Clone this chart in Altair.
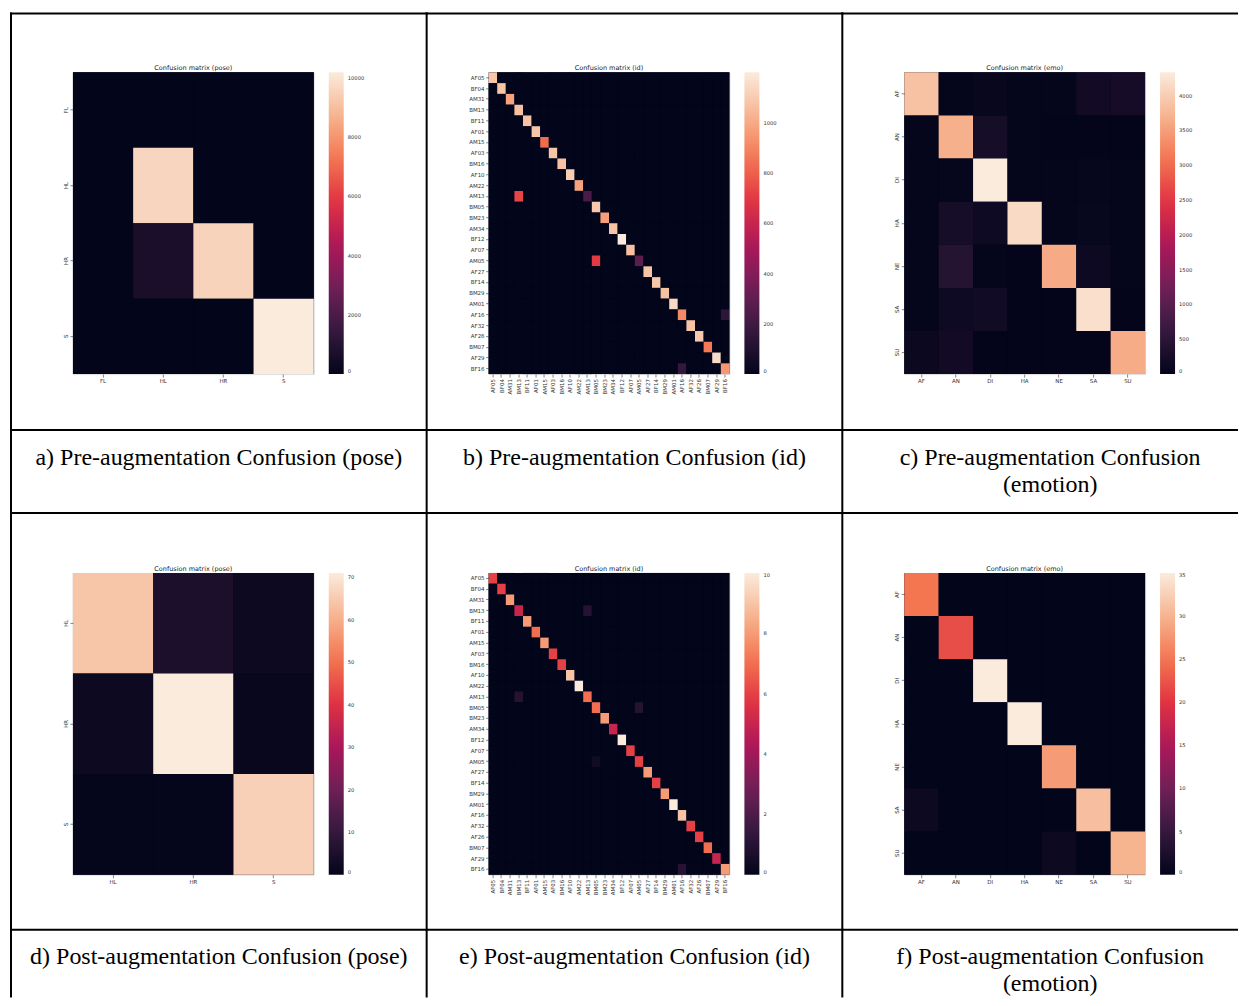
import altair as alt
import pandas as pd

# ---------------- data ----------------
pose_pre_labels = ["FL", "HL", "HR", "S"]
pose_pre = [
    [0, 0, 0, 0],
    [0, 9600, 0, 0],
    [0, 670, 9550, 0],
    [0, 0, 0, 10180],
]
pose_pre_max = 10180
pose_pre_ticks = [0, 2000, 4000, 6000, 8000, 10000]

pose_post_labels = ["HL", "HR", "S"]
pose_post = [
    [64, 5, 2],
    [2, 71, 1],
    [0.5, 0.5, 66],
]
pose_post_max = 71
pose_post_ticks = [0, 10, 20, 30, 40, 50, 60, 70]

id_labels = ["AF05", "BF04", "AM31", "BM13", "BF11", "AF01", "AM15", "AF03",
             "BM16", "AF10", "AM22", "AM13", "BM05", "BM23", "AM34", "BF12",
             "AF07", "AM05", "AF27", "BF14", "BM29", "AM01", "AF16", "AF32",
             "AF26", "BM07", "AF29", "BF16"]
id_pre_diag = [1085, 1080, 980, 1066, 1072, 1085, 832, 1085, 1072, 1106, 980,
               236, 1090, 967, 1080, 1200, 1066, 280, 1080, 1085, 1072, 1147,
               912, 1080, 1090, 868, 1152, 948]
id_pre_off = [("AM13", "BM13", 732), ("AM05", "BM05", 700),
              ("AF16", "BF16", 145), ("BF16", "AF16", 165)]
id_pre_max = 1200
id_pre_ticks = [0, 200, 400, 600, 800, 1000]

id_post_diag = [6, 6, 8, 5, 8, 7, 8, 6, 6, 9, 10, 7, 7, 8, 5, 10, 6, 6, 8, 6,
                8, 10, 9, 6, 6, 7, 5, 8]
id_post_off = [("BM13", "AM13", 1), ("AM13", "BM13", 1), ("BM05", "AM05", 1),
               ("AM05", "BM05", 0.4), ("BF16", "AF16", 1)]
id_post_max = 10
id_post_ticks = [0, 2, 4, 6, 8, 10]

emo_labels = ["AF", "AN", "DI", "HA", "NE", "SA", "SU"]
emo_pre = [
    [3870, 30, 70, 20, 20, 200, 230],
    [20, 3670, 240, 20, 10, 10, 10],
    [20, 40, 4330, 20, 20, 40, 20],
    [20, 240, 150, 4140, 20, 50, 20],
    [30, 420, 20, 10, 3620, 130, 20],
    [30, 150, 190, 10, 10, 4200, 10],
    [100, 200, 10, 10, 10, 10, 3630],
]
emo_pre_max = 4334
emo_pre_ticks = [0, 500, 1000, 1500, 2000, 2500, 3000, 3500, 4000]

emo_post = [
    [25, 0, 0, 0, 0, 0, 0],
    [0, 22, 0, 0, 0, 0, 0],
    [0, 0, 35, 0, 0, 0, 0],
    [0, 0, 0, 35, 0, 0, 0],
    [0, 0, 0, 0, 28, 0, 0],
    [1, 0, 0, 0, 0, 31, 0],
    [0, 0, 0, 0, 1, 0, 30],
]
emo_post_max = 35
emo_post_ticks = [0, 5, 10, 15, 20, 25, 30, 35]

titles = ["Confusion matrix (pose)", "Confusion matrix (id)", "Confusion matrix (emo)",
          "Confusion matrix (pose)", "Confusion matrix (id)", "Confusion matrix (emo)"]
captions = [["a) Pre-augmentation Confusion (pose)"],
            ["b) Pre-augmentation Confusion (id)"],
            ["c) Pre-augmentation Confusion", "(emotion)"],
            ["d) Post-augmentation Confusion (pose)"],
            ["e) Post-augmentation Confusion (id)"],
            ["f) Post-augmentation Confusion", "(emotion)"]]


def id_matrix(diag, off):
    n = len(id_labels)
    m = [[0] * n for _ in range(n)]
    for i in range(n):
        m[i][i] = diag[i]
    for r, c, v in off:
        m[id_labels.index(r)][id_labels.index(c)] = v
    return m


# ---------------- style ----------------
ROCKET = ["#03051a", "#35193e", "#701f57", "#ad1759", "#e13342", "#f37651", "#f6b48f", "#faebdd"]
STOPS = [0, 1 / 7, 2 / 7, 3 / 7, 4 / 7, 5 / 7, 6 / 7, 1]
PW, PH = 241, 302
COL_SP, ROW_SP = 175, 199
DUMMY = pd.DataFrame({"k": [0]})
LINE = dict(color="black", strokeWidth=2, strokeCap="square")


def panel(idx, labels, mat, vmax, ticks, id_style):
    row, col = divmod(idx, 3)
    n = len(labels)
    df = pd.DataFrame({
        "t": [labels[i] for i in range(n) for j in range(n)],
        "p": [labels[j] for i in range(n) for j in range(n)],
        "v": [mat[i][j] for i in range(n) for j in range(n)],
    })
    common = dict(domain=False, grid=False, ticks=True, tickSize=3, tickWidth=0.6,
                  tickColor="#333", labelFont="DejaVu Sans", labelFontSize=5.5,
                  labelColor="#333", labelPadding=1.5, labelOverlap=False)
    if id_style:
        xax = alt.Axis(labelAngle=270, **common)
        yax = alt.Axis(labelAngle=0, **common)
    else:
        xax = alt.Axis(labelAngle=0, **common)
        yax = alt.Axis(labelAngle=270, **common)
    # dark backdrop so anti-aliasing seams between cells do not show white
    backdrop = alt.Chart(DUMMY).mark_rect(color=ROCKET[0]).encode(
        x=alt.value(0), x2=alt.value(PW), y=alt.value(0), y2=alt.value(PH))
    rect = alt.Chart(df).mark_rect().encode(
        x=alt.X("p:N", sort=labels, axis=xax, title=None),
        y=alt.Y("t:N", sort=labels, axis=yax, title=None),
        color=alt.Color(
            "v:Q",
            scale=alt.Scale(domain=[vmax * s for s in STOPS], range=ROCKET, interpolate="rgb"),
            legend=alt.Legend(title=None, values=ticks, format="d", gradientLength=PH,
                              gradientThickness=15, offset=15, labelFont="DejaVu Sans",
                              labelFontSize=5.2, labelColor="#333", labelOffset=4,
                              gradientStrokeWidth=0, direction="vertical", orient="right",
                              labelBaseline="middle"),
        ),
    )
    layers = [backdrop, rect]
    layers.append(alt.Chart(DUMMY).mark_text(
        text=titles[idx], font="DejaVu Sans", fontSize=6.5, color="#222",
        align="center", baseline="alphabetic").encode(x=alt.value(PW / 2), y=alt.value(-2)))

    left = -62
    right = 354 if col < 2 else 333
    if row == 0:
        top, sep, bottom = -59, 358, 441
        base1 = 393
    else:
        top, sep, bottom = -60, 357, 424
        base1 = 391.5
    layers.append(alt.Chart(DUMMY).mark_rule(**LINE).encode(
        x=alt.value(left), y=alt.value(top), y2=alt.value(bottom)))
    for yy in (top, sep):
        layers.append(alt.Chart(DUMMY).mark_rule(**LINE).encode(
            x=alt.value(left), x2=alt.value(right), y=alt.value(yy)))
    for k, line in enumerate(captions[idx]):
        layers.append(alt.Chart(DUMMY).mark_text(
            text=line, font="Liberation Serif", fontSize=24, color="black",
            align="center", baseline="alphabetic").encode(
            x=alt.value(146), y=alt.value(base1 + 27 * k)))
    return alt.layer(*layers).properties(width=PW, height=PH)


charts = [
    panel(0, pose_pre_labels, pose_pre, pose_pre_max, pose_pre_ticks, False),
    panel(1, id_labels, id_matrix(id_pre_diag, id_pre_off), id_pre_max, id_pre_ticks, True),
    panel(2, emo_labels, emo_pre, emo_pre_max, emo_pre_ticks, False),
    panel(3, pose_post_labels, pose_post, pose_post_max, pose_post_ticks, False),
    panel(4, id_labels, id_matrix(id_post_diag, id_post_off), id_post_max, id_post_ticks, True),
    panel(5, emo_labels, emo_post, emo_post_max, emo_post_ticks, False),
]

chart = alt.concat(
    *charts, columns=3, spacing={"row": ROW_SP, "column": COL_SP}, bounds="flush"
).resolve_scale(
    color="independent", x="independent", y="independent"
).resolve_legend(color="independent").properties(
    padding={"left": 1, "top": 3, "right": 0, "bottom": 0}
).configure_view(stroke=None).configure(background="white")

chart.save("out.html", embed_options={"renderer": "svg", "actions": False})
